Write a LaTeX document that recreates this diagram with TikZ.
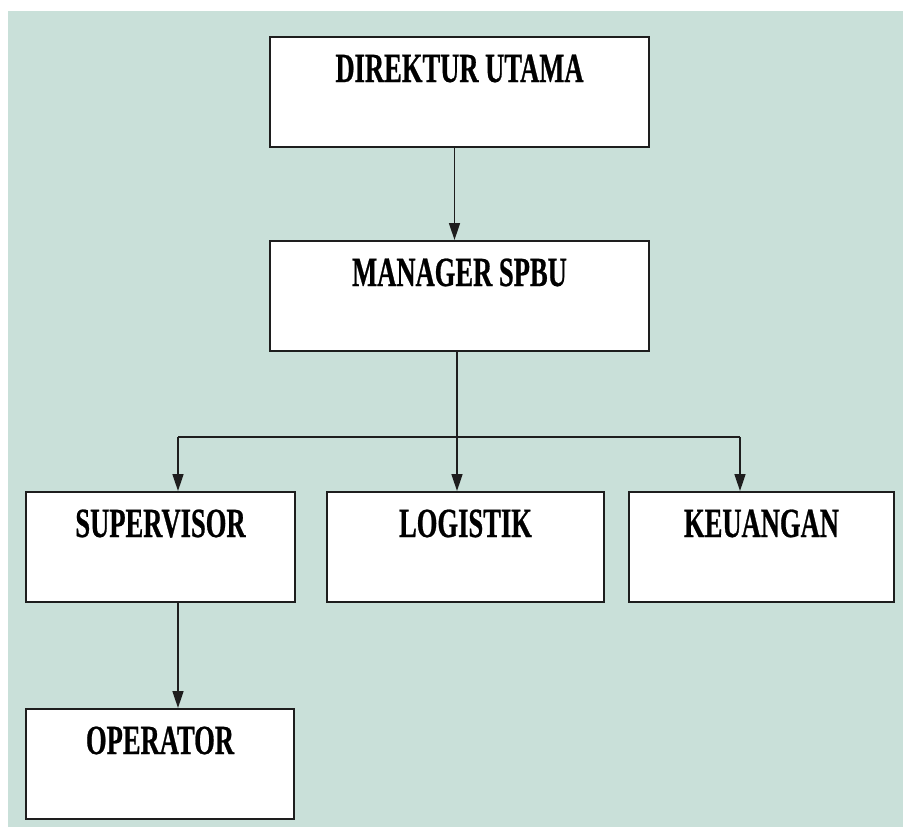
\documentclass[tikz,border=0pt]{standalone}
\usepackage{fontspec}
\newfontfamily\orgfont[FakeStretch=0.64,FakeBold=0.6]{Liberation Serif}
\usetikzlibrary{arrows.meta}
\definecolor{panel}{HTML}{C9E0D9}
\definecolor{edge}{HTML}{1E1E1E}
\begin{document}
\begin{tikzpicture}[x=1pt,y=-1pt,
  unit/.style={draw=edge, line width=2pt, fill=white, minimum width=#1,
    minimum height=110pt, inner sep=0pt, anchor=north west},
  title/.style={font=\orgfont\bfseries\fontsize{41.5}{42}\selectfont,
    anchor=base, yshift=-46pt, inner sep=0pt},
  link/.style={draw=edge, line width=1.6pt},
  arr/.style={link, -{Triangle[length=17pt,width=11pt]}}]

  % canvas
  \useasboundingbox (0,0) rectangle (903,827);
  \fill[white] (0,0) rectangle (903,827);
  \fill[panel] (8,11) rectangle (903,827);

  % units
  \node[unit=379pt, label={[title]north:DIREKTUR UTAMA}] (dir) at (269,36) {};
  \node[unit=379pt, label={[title]north:MANAGER SPBU}] (mgr) at (269,240) {};
  \node[unit=269pt, label={[title]north:SUPERVISOR}] (sup) at (25,491) {};
  \node[unit=277pt, label={[title]north:LOGISTIK}] (log) at (326,491) {};
  \node[unit=265pt, label={[title]north:KEUANGAN}] (keu) at (628,491) {};
  \node[unit=268pt, label={[title]north:OPERATOR}] (opr) at (25,708) {};

  % bus coordinates
  \coordinate (hub) at (457,437);
  \coordinate (busL) at (178,437);
  \coordinate (busR) at (740,437);

  % connectors
  \draw[arr] ([xshift=-5pt]dir.south) -- ([xshift=-5pt]mgr.north);
  \draw[link] (hub |- mgr.south) -- (hub);
  \draw[link] (busL) -- (busR);
  \draw[arr] (busL) -- (busL |- sup.north);
  \draw[arr] (hub) -- (hub |- log.north);
  \draw[arr] (busR) -- (busR |- keu.north);
  \draw[arr] (busL |- sup.south) -- (busL |- opr.north);
\end{tikzpicture}
\end{document}
